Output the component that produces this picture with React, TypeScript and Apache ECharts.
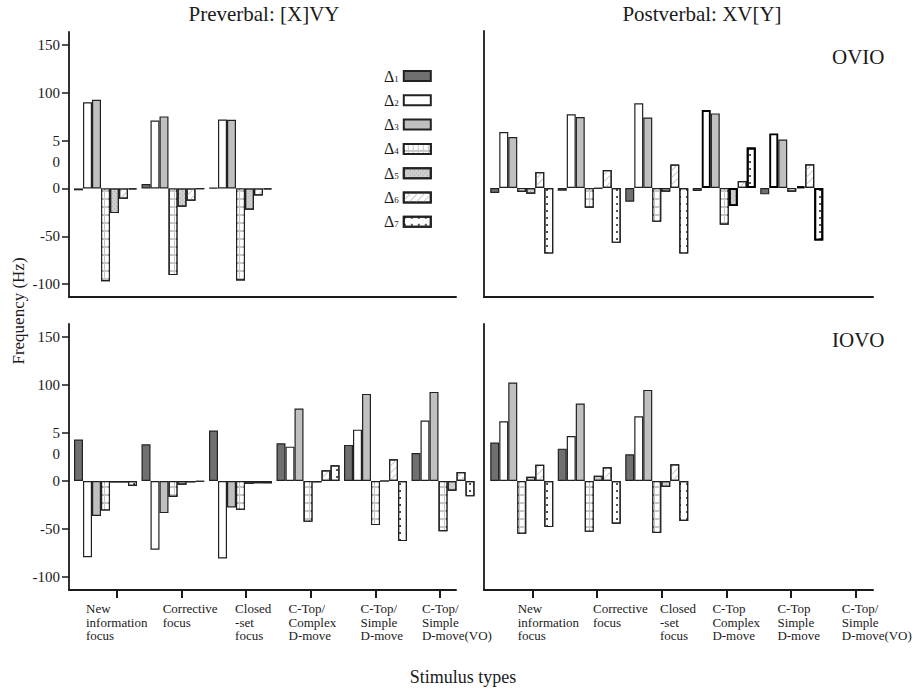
import React, { useEffect, useRef } from "react";
import * as echarts from "echarts";

// Series names (F0 differences Δ1 … Δ7)
const DELTAS = ["Δ1", "Δ2", "Δ3", "Δ4", "Δ5", "Δ6", "Δ7"];

// Stimulus types
const CATEGORIES_PRE = [
  "New\ninformation\nfocus",
  "Corrective\nfocus",
  "Closed\n-set\nfocus",
  "C-Top/\nComplex\nD-move",
  "C-Top/\nSimple\nD-move",
  "C-Top/\nSimple\nD-move(VO)",
];
const CATEGORIES_POST = [
  "New\ninformation\nfocus",
  "Corrective\nfocus",
  "Closed\n-set\nfocus",
  "C-Top\nComplex\nD-move",
  "C-Top\nSimple\nD-move",
  "C-Top/\nSimple\nD-move(VO)",
];

const Y_TICKS = [-100, -50, 0, 50, 100, 150];

// Rows: Δ1..Δ7, columns: stimulus types (Hz); null = not measured
const OVIO_PREVERBAL = [
  [-2, 4.5, 0.5, null, null, null],
  [90, 71, 72, null, null, null],
  [92.7, 75.3, 71.8, null, null, null],
  [-97, -90.6, -96.2, null, null, null],
  [-25.8, -19.2, -22.3, null, null, null],
  [-10.8, -12.9, -7.3, null, null, null],
  [-1, -0.5, -1, null, null, null],
];
const OVIO_POSTVERBAL = [
  [-5.2, -2.8, -14.3, -3.1, -6.6, null],
  [58.2, 76.7, 88.2, 81.2, 56.8, null],
  [53, 73.9, 73.5, 77.7, 50.5, null],
  [-4.2, -20.6, -35.2, -38.3, -3.8, null],
  [-5.9, -0.5, -3.8, -18.8, 1.7, null],
  [16.7, 18.8, 24.4, 7.3, 24.7, null],
  [-68.3, -57.1, -68.3, 42.2, -54.7, null],
];
const IOVO_PREVERBAL = [
  [43.1, 38.2, 52.5, 39.3, 37.6, 29.2],
  [-79.3, -71.6, -80.7, 35.8, 53.5, 62.9],
  [-36.5, -33.4, -27.5, 75.5, 90.7, 92.8],
  [-30.6, -16.7, -29.9, -42.4, -45.9, -52.2],
  [-1.5, -3.8, -2.8, -1.4, 0, -10.1],
  [-1.5, -1.4, -2.4, 11.1, 22.6, 9.4],
  [-5.2, -0.5, -2.4, 16.3, -62.6, -16],
];
const IOVO_POSTVERBAL = [
  [40, 33.7, 27.8, null, null, null],
  [62.2, 46.9, 67.5, null, null, null],
  [102.6, 80.7, 94.9, null, null, null],
  [-54.9, -52.9, -54.2, null, null, null],
  [4.5, 5.6, -6.3, null, null, null],
  [17, 14.3, 17.4, null, null, null],
  [-48, -44.5, -41.7, null, null, null],
];

// ---- styling / layout ----
const FONT = '"Liberation Serif", "Times New Roman", serif';
const INK = "#1a1a1a";
const Y_MIN = -113.5;
const Y_MAX = 163.5;
const TICK_STEP = 64.7; // px between stimulus ticks
const BAR_AREA = 405; // px for six bar groups

// [series, category] cells drawn with a heavier outline
const HEAVY_OUTLINE_POST_OVIO = [
  [1, 3],
  [4, 3],
  [6, 3],
  [1, 4],
  [4, 4],
  [6, 4],
];

const FILL = ["#707070", "#ffffff", "#c0c0c0", "#c6c6c6", "#cfcfcf", "#ffffff", "#ffffff"];
const DECAL: any[] = [
  null,
  null,
  null,
  {
    symbol: "rect",
    symbolSize: 1,
    symbolKeepAspect: false,
    color: "#ffffff",
    dashArrayX: [3.4, 1],
    dashArrayY: [6, 1.2],
  },
  {
    symbol: "rect",
    symbolSize: 1,
    symbolKeepAspect: false,
    color: "#a0a0a0",
    dashArrayX: [1, 1.5],
    dashArrayY: [1, 1.5],
    rotation: Math.PI / 4,
  },
  {
    symbol: "rect",
    symbolSize: 1,
    symbolKeepAspect: false,
    color: "#c8c8c8",
    dashArrayX: [1, 0],
    dashArrayY: [1, 4],
    rotation: -Math.PI / 4,
  },
  {
    symbol: "circle",
    symbolSize: 0.9,
    color: "#111111",
    dashArrayX: [2, 5],
    dashArrayY: [2, 5],
  },
];

type Panel = {
  data: (number | null)[][];
  cats: string[];
  left: number;
  barLeft: number;
  top: number;
  width: number;
  height: number;
  firstTick: number;
  yLabels: boolean;
  xLabels: boolean;
  labelShift: number[];
  heavy?: number[][];
};

const PANELS: Panel[] = [
  {
    data: OVIO_PREVERBAL, cats: CATEGORIES_PRE, left: 69, barLeft: 71.75, top: 32, width: 387, height: 265,
    firstTick: 47.7, yLabels: true, xLabels: false, labelShift: [],
  },
  {
    data: OVIO_POSTVERBAL, cats: CATEGORIES_POST, left: 484, barLeft: 488, top: 31, width: 389, height: 266,
    firstTick: 48.3, yLabels: false, xLabels: false, labelShift: [], heavy: HEAVY_OUTLINE_POST_OVIO,
  },
  {
    data: IOVO_PREVERBAL, cats: CATEGORIES_PRE, left: 69, barLeft: 71.75, top: 324, width: 387, height: 266,
    firstTick: 47.7, yLabels: true, xLabels: true, labelShift: [-30.7, -18.7, -11, -22.3, -15, -18.3],
  },
  {
    data: IOVO_POSTVERBAL, cats: CATEGORIES_POST, left: 484, barLeft: 488, top: 324, width: 389, height: 266,
    firstTick: 48.3, yLabels: false, xLabels: true, labelShift: [-14.6, -4, -1.7, -14, -13.7, -14],
  },
];

function buildOption() {
  const grid: any[] = [];
  const xAxis: any[] = [];
  const yAxis: any[] = [];
  const series: any[] = [];

  PANELS.forEach((p, pi) => {
    const frame = pi * 2;
    const bars = pi * 2 + 1;
    const xMin = -p.firstTick / TICK_STEP;
    const xMax = xMin + p.width / TICK_STEP;
    const labelVals = p.labelShift.map((s, i) => i + s / TICK_STEP);

    grid.push({ left: p.left, top: p.top, width: p.width, height: p.height });
    grid.push({ left: p.barLeft, top: p.top, width: BAR_AREA, height: p.height });

    // frame axes with ticks and labels
    xAxis.push({
      type: "value",
      gridIndex: frame,
      min: xMin,
      max: xMax,
      splitLine: { show: false },
      axisLine: { show: true, onZero: false, lineStyle: { color: INK, width: 2 } },
      axisTick: {
        show: p.xLabels,
        customValues: p.cats.map((_, i) => i),
        length: 8,
        lineStyle: { color: INK, width: 2 },
      },
      axisLabel: {
        show: p.xLabels,
        customValues: labelVals,
        formatter: (v: number) => {
          const i = labelVals.findIndex((lv) => Math.abs(lv - v) < 1e-6);
          return i >= 0 ? p.cats[i] : "";
        },
        align: "left",
        verticalAlign: "top",
        margin: 12,
        lineHeight: 13.5,
        fontSize: 13,
        fontFamily: FONT,
        color: INK,
      },
    });
    yAxis.push({
      type: "value",
      gridIndex: frame,
      min: Y_MIN,
      max: Y_MAX,
      splitLine: { show: false },
      axisLine: { show: true, onZero: false, lineStyle: { color: INK, width: 1.8 } },
      axisTick: {
        show: p.yLabels,
        customValues: Y_TICKS,
        length: 7,
        lineStyle: { color: INK, width: 1.5 },
      },
      axisLabel: {
        show: p.yLabels,
        customValues: Y_TICKS,
        formatter: (v: number) => (v === 50 ? " \n5\n0" : String(v)),
        lineHeight: 21,
        margin: 9,
        fontSize: 15,
        fontFamily: FONT,
        color: INK,
      },
    });

    // hidden axes for the bar groups
    xAxis.push({ type: "category", gridIndex: bars, data: p.cats, show: false });
    yAxis.push({ type: "value", gridIndex: bars, min: Y_MIN, max: Y_MAX, show: false });

    p.data.forEach((vals, d) => {
      series.push({
        type: "bar",
        name: DELTAS[d],
        xAxisIndex: bars,
        yAxisIndex: bars,
        barWidth: 9,
        barGap: "0%",
        itemStyle: {
          color: FILL[d],
          borderColor: "#222222",
          borderWidth: 1.2,
          decal: DECAL[d] || undefined,
        },
        data: vals.map((v, c) => {
          if (v === null) return "-";
          const heavy = p.heavy && p.heavy.some(([s, k]) => s === d && k === c);
          return heavy ? { value: v, itemStyle: { borderWidth: 1.9, borderColor: "#000" } } : v;
        }),
      });
    });
  });

  return {
    animation: false,
    backgroundColor: "#ffffff",
    grid,
    xAxis,
    yAxis,
    series,
    legend: {
      data: DELTAS,
      orient: "vertical",
      align: "right",
      left: 379,
      top: 62,
      itemWidth: 27,
      itemHeight: 10,
      itemGap: 7.3,
      selectedMode: false,
      icon: "rect",
      formatter: (name: string) => `{d|Δ}{s|${name.slice(1)}}`,
      textStyle: {
        fontFamily: FONT,
        color: INK,
        lineHeight: 14,
        rich: {
          d: { fontFamily: FONT, fontSize: 16, color: INK, lineHeight: 14 },
          s: { fontFamily: FONT, fontSize: 9, color: INK, lineHeight: 14, verticalAlign: "bottom", padding: [7, 0, 0, 0] },
        },
      },
    },
    graphic: [
      {
        type: "text", x: 264, y: 14,
        style: { text: "Preverbal: [X]VY", font: `21px ${FONT}`, fill: INK, align: "center", verticalAlign: "middle" },
      },
      {
        type: "text", x: 702, y: 14,
        style: { text: "Postverbal: XV[Y]", font: `21px ${FONT}`, fill: INK, align: "center", verticalAlign: "middle" },
      },
      {
        type: "text", x: 832, y: 57,
        style: { text: "OVIO", font: `21px ${FONT}`, fill: INK, align: "left", verticalAlign: "middle" },
      },
      {
        type: "text", x: 832, y: 340,
        style: { text: "IOVO", font: `21px ${FONT}`, fill: INK, align: "left", verticalAlign: "middle" },
      },
      {
        type: "text", x: 18, y: 311, rotation: Math.PI / 2,
        style: { text: "Frequency (Hz)", font: `17px ${FONT}`, fill: INK, align: "center", verticalAlign: "middle" },
      },
      {
        type: "text", x: 463, y: 677,
        style: { text: "Stimulus types", font: `18px ${FONT}`, fill: INK, align: "center", verticalAlign: "middle" },
      },
    ],
  };
}

export default function App() {
  const ref = useRef<HTMLDivElement>(null);
  useEffect(() => {
    if (!ref.current) return;
    const chart = echarts.init(ref.current, undefined, { renderer: "svg" });
    chart.setOption(buildOption() as any);
    return () => chart.dispose();
  }, []);
  return (
    <div
      ref={ref}
      style={{ position: "absolute", left: 0, top: 0, width: 919, height: 689, background: "#fff" }}
    />
  );
}
